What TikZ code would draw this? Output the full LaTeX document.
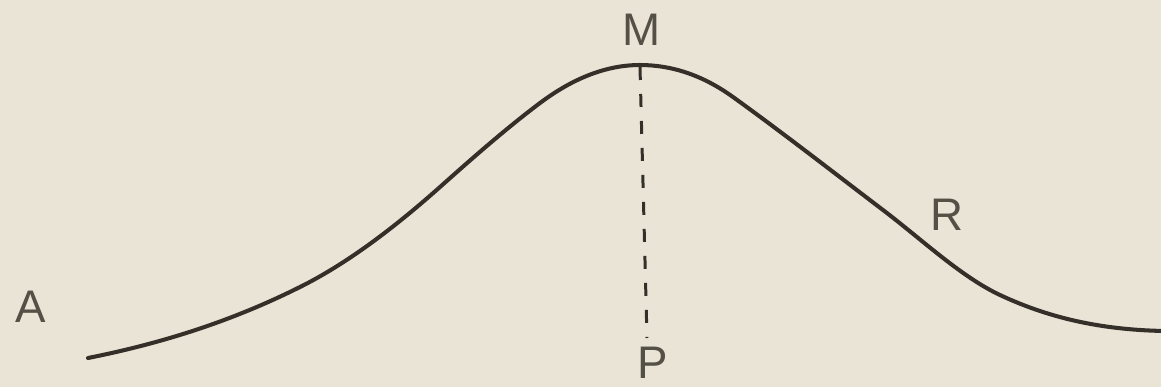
\documentclass[tikz,border=0pt]{standalone}
\usepackage{fontspec}
\setsansfont{Liberation Sans}
\definecolor{paper}{RGB}{233,228,214}
\definecolor{ink}{RGB}{52,47,40}
\definecolor{labelink}{RGB}{85,80,70}
\begin{document}
\begin{tikzpicture}[x=0.02cm,y=-0.02cm,
  curveline/.style={draw=ink,line width=2.3pt,line cap=round},
  dropline/.style={draw=ink,line width=1.7pt,dash pattern=on 0.26cm off 0.28cm},
  lbl/.style={text=labelink,font=\sffamily\fontsize{26}{30}\selectfont,inner sep=0pt}]
\fill[paper] (0,0) rectangle (1161,387);
\useasboundingbox (0,0) rectangle (1161,387);
\coordinate (start) at (88,358);
\coordinate (top) at (640,65);
\coordinate (foot) at (647,338);
\coordinate (end) at (1165,331);
\draw[curveline] (start)
  .. controls (158.7,343.9) and (229.3,322.4) .. (300,287)
  .. controls (346.7,263.7) and (393.3,228.5) .. (440,187)
  .. controls (473.3,157.3) and (506.7,128) .. (540,103)
  .. controls (573.3,78) and (606.7,65) .. (top)
  .. controls (671,65) and (702,74.7) .. (733,97)
  .. controls (783,133) and (833,172) .. (883,210)
  .. controls (922,239.6) and (961,276.7) .. (1000,295)
  .. controls (1053.7,320.2) and (1107.3,330) .. (end);
\draw[dropline] ([yshift=-0.04cm]top) -- (foot);
\node[lbl] (M) at (642,30) {M};
\node[lbl] (R) at (947,215) {R};
\node[lbl] (A) at (31,307) {A};
\node[lbl] (P) at (653,363) {P};
\end{tikzpicture}
\end{document}
